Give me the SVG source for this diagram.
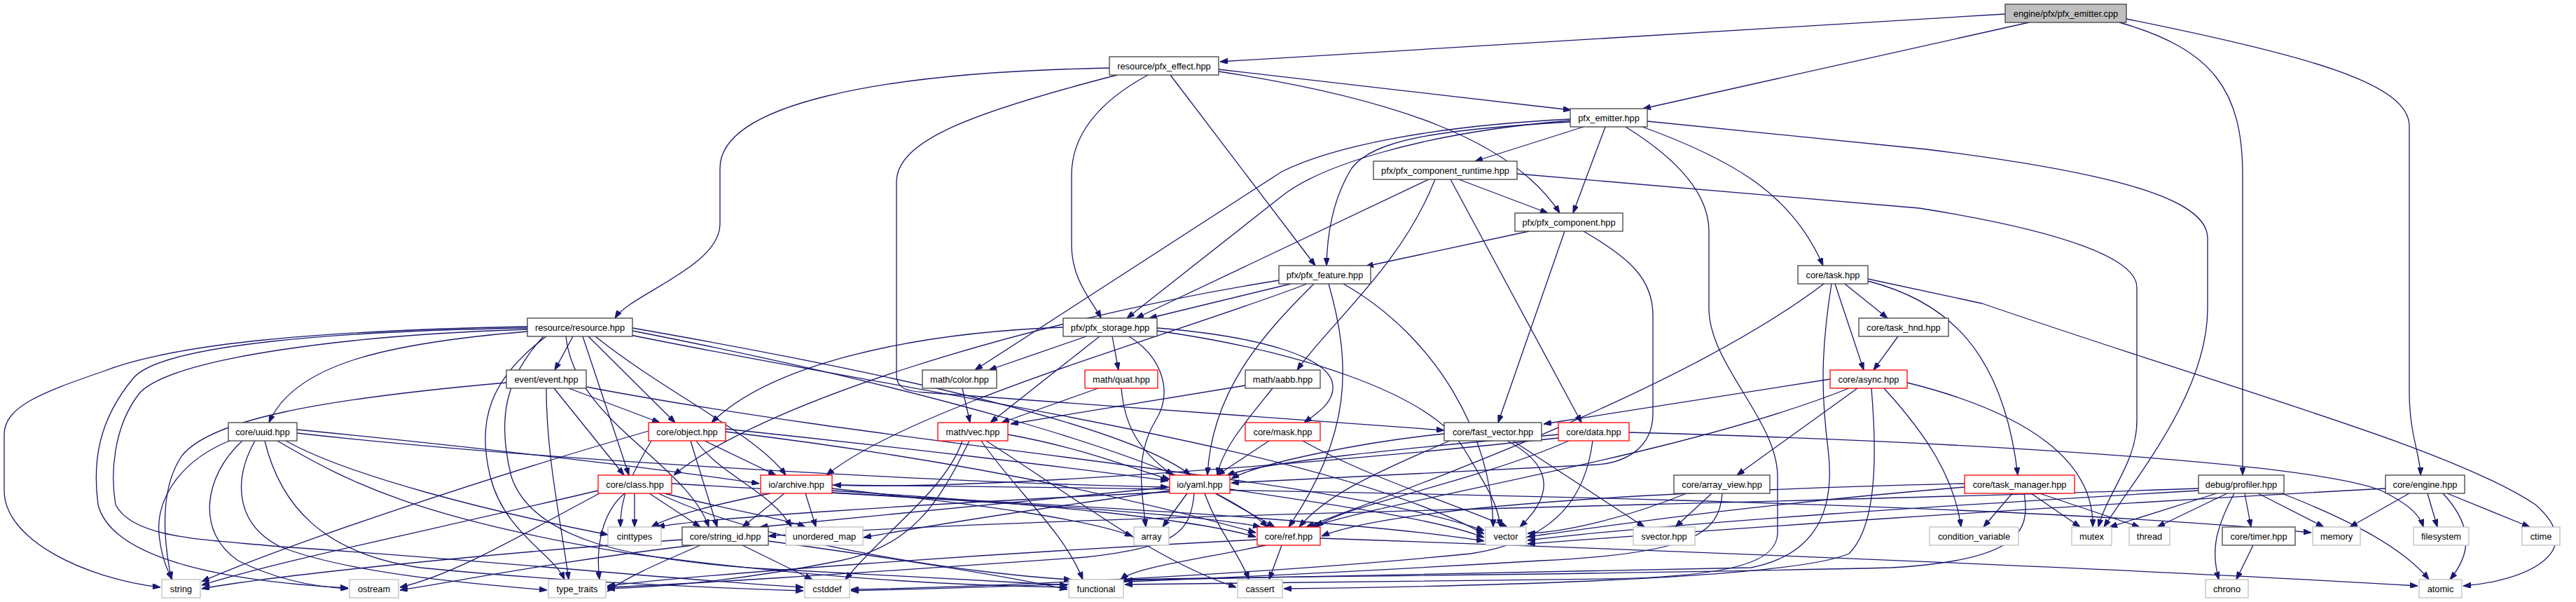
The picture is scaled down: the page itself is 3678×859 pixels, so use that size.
<svg xmlns="http://www.w3.org/2000/svg" width="3678" height="859" viewBox="0 0 3678 859">
<style>
.n rect{fill:#fff;stroke:#404040;stroke-width:1.3}
.n.r rect{stroke:#ff0000}
.n.g rect{stroke:#bfbfbf}
.n.c rect{fill:#bfbfbf}
.n text{font-family:"Liberation Sans",Arial,sans-serif;font-size:12.8px;text-anchor:middle;fill:#000}
#edges path{fill:none;stroke:#191970;stroke-width:1.3;marker-end:url(#a)}
</style>
<defs>
<marker id="a" viewBox="0 0 11 8" refX="11" refY="4" markerWidth="11" markerHeight="8" markerUnits="userSpaceOnUse" orient="auto"><path d="M0,0 L11,4 L0,8 z" fill="#191970" stroke="#191970" stroke-width="1"/></marker>
</defs>
<rect width="3678" height="859" fill="#fff"/>
<g id="edges">
<path d="M2863,20 L1742,88"/>
<path d="M2897,32 L2346,155"/>
<path d="M3026,32 C3160,70 3202,130 3202,250 L3202,678"/>
<path d="M3036,27 C3300,80 3440,120 3440,180 L3440,560 C3440,620 3456,650 3456,678"/>
<path d="M1584,97 C1250,103 1028,150 1028,240 L1028,320 C1028,380 900,420 878,454"/>
<path d="M1595,107 C1390,160 1280,200 1280,260 L1280,535 C1280,555 1295,558 1320,560 L2062,614"/>
<path d="M1639,107 C1560,150 1530,200 1530,250 L1530,350 C1530,400 1560,430 1572,454"/>
<path d="M1671,107 L1878,379"/>
<path d="M1740,99 L2243,157"/>
<path d="M1740,102 C1990,140 2160,200 2227,304"/>
<path d="M2242,170 C2040,180 1900,210 1830,245 L1392,528"/>
<path d="M2242,172 C2020,190 1880,240 1830,280 L1609,454"/>
<path d="M2242,174 C2050,185 1960,200 1930,240 C1905,280 1895,330 1894,379"/>
<path d="M2261,181 L2106,230"/>
<path d="M2292,181 L2246,304"/>
<path d="M2321,181 C2400,230 2440,280 2440,330 L2440,440 C2440,520 2538,600 2538,680 L2538,760 C2538,800 2480,822 2300,826 L1606,834"/>
<path d="M2345,181 C2480,230 2560,280 2603,379"/>
<path d="M2352,173 L2750,213 C3050,250 3152,290 3152,340 L3152,440 C3152,560 3050,680 3004,752"/>
<path d="M2040,256 L1622,454"/>
<path d="M2049,256 C2000,380 1900,460 1852,528"/>
<path d="M2071,256 L2258,603"/>
<path d="M2083,256 L2210,304"/>
<path d="M2166,248 L2740,297 C2950,330 3051,370 3051,410 L3051,600 C3051,660 3010,700 2996,752"/>
<path d="M2183,330 L1950,380"/>
<path d="M2234,330 L2139,603"/>
<path d="M2261,330 C2330,370 2360,400 2360,450 L2360,590 C2360,640 2320,660 2280,663 L1758,689"/>
<path d="M1843,405 L1641,454"/>
<path d="M1826,400 C1450,460 1080,580 962,678"/>
<path d="M1876,405 C1800,480 1730,560 1724,678"/>
<path d="M1897,405 C1930,520 1930,620 1840,752"/>
<path d="M1918,405 C2050,480 2130,620 2132,752"/>
<path d="M1866,405 C1700,470 1300,580 1180,678"/>
<path d="M2604,405 C2400,560 2000,700 1865,752"/>
<path d="M2615,405 C2600,500 2600,560 2610,640 C2620,720 2600,790 2500,810 L1606,828"/>
<path d="M2620,405 L2661,528"/>
<path d="M2634,405 L2695,454"/>
<path d="M2667,401 C2780,430 2860,500 2881,678"/>
<path d="M2667,398 L2830,433 C3200,560 3500,640 3620,720 C3700,790 3600,830 3517,836"/>
<path d="M2710,480 L2675,528"/>
<path d="M753,466 C450,472 250,490 147,530 C60,560 6,580 6,620 L6,700 C6,770 120,825 229,838"/>
<path d="M753,468 C500,472 230,490 190,540 C140,600 132,660 140,720 C160,800 330,830 497,839"/>
<path d="M753,470 C500,478 250,510 200,560 C160,610 158,680 165,720 C190,770 300,770 400,780 C700,800 1000,830 1147,838"/>
<path d="M753,473 C550,490 420,520 384,603"/>
<path d="M818,480 L792,528"/>
<path d="M840,480 L964,603"/>
<path d="M832,480 L898,678"/>
<path d="M850,480 C950,560 1080,620 1122,678"/>
<path d="M780,480 C700,540 680,600 700,680 C720,760 790,790 806,827"/>
<path d="M776,480 C720,540 710,600 730,680 C760,770 900,800 1100,812 L1524,835"/>
<path d="M808,480 C820,600 980,660 1012,752"/>
<path d="M903,468 C1200,520 1600,600 1700,678"/>
<path d="M903,472 C1250,540 1700,650 1810,752"/>
<path d="M900,478 C1300,560 1900,640 2119,762"/>
<path d="M1518,467 C1300,475 1100,520 1016,603"/>
<path d="M1551,480 L1412,528"/>
<path d="M1570,480 L1414,603"/>
<path d="M1588,480 L1597,528"/>
<path d="M1612,480 C1660,510 1675,560 1650,600 C1620,650 1630,700 1636,752"/>
<path d="M1652,468 C1800,480 1900,510 1903,550 C1905,575 1880,590 1862,603"/>
<path d="M1652,472 C1850,500 2040,560 2090,640 C2120,690 2140,720 2142,752"/>
<path d="M723,546 C450,570 300,600 260,650 C225,700 235,780 245,827"/>
<path d="M791,554 L891,678"/>
<path d="M812,554 L942,603"/>
<path d="M780,554 C780,650 800,740 812,827"/>
<path d="M837,552 C1300,640 1900,680 2119,757"/>
<path d="M1374,554 L1385,603"/>
<path d="M1568,554 L1430,603"/>
<path d="M1601,554 C1605,600 1620,640 1675,678"/>
<path d="M1778,550 L1443,605"/>
<path d="M1817,554 C1780,600 1745,640 1738,678"/>
<path d="M2613,541 L2204,605"/>
<path d="M2640,554 C2400,650 2000,710 1872,752"/>
<path d="M2652,554 L2480,678"/>
<path d="M2672,554 C2680,650 2680,750 2640,790 C2550,830 2000,838 1833,840"/>
<path d="M2690,554 C2750,620 2790,680 2800,752"/>
<path d="M2723,546 C2900,590 2990,660 2988,752"/>
<path d="M2408,704 C2320,740 2230,760 2181,761"/>
<path d="M2444,704 L2392,752"/>
<path d="M2459,704 C2455,760 2420,790 2200,800 C1700,830 1400,838 1215,843"/>
<path d="M2805,695 C2500,720 2300,750 2181,766"/>
<path d="M2805,690 C2400,700 2000,720 1887,765"/>
<path d="M2890,704 C2900,760 2880,800 2700,810 C2200,822 1800,822 1598,827"/>
<path d="M2873,704 L2832,752"/>
<path d="M2900,704 L2970,752"/>
<path d="M2912,704 L3055,752"/>
<path d="M3139,697 C2500,720 1500,735 1097,765"/>
<path d="M3139,700 C2800,720 2400,745 2181,771"/>
<path d="M3165,704 L3012,752"/>
<path d="M3180,704 L3080,752"/>
<path d="M3205,704 L3214,752"/>
<path d="M3224,704 L3318,752"/>
<path d="M3190,704 C3160,760 3158,790 3168,827"/>
<path d="M3258,704 C3350,740 3430,780 3468,827"/>
<path d="M3406,697 C2800,730 2400,760 2181,776"/>
<path d="M3440,704 L3355,752"/>
<path d="M3466,704 L3480,752"/>
<path d="M3488,704 C3540,760 3520,800 3498,827"/>
<path d="M3494,704 L3612,752"/>
<path d="M3217,778 L3193,827"/>
<path d="M1885,768 C2500,790 3100,815 3452,836"/>
<path d="M1795,770 C1400,790 1000,820 867,836"/>
<path d="M1808,778 C1700,800 1620,810 1600,827"/>
<path d="M1830,778 L1812,827"/>
<path d="M974,770 C700,790 400,820 288,840"/>
<path d="M990,778 C800,800 650,830 571,842"/>
<path d="M1000,778 C950,800 900,820 867,844"/>
<path d="M1060,778 L1160,827"/>
<path d="M1097,772 C1300,800 1450,825 1524,841"/>
<path d="M1670,695 C1400,720 1200,740 1085,752"/>
<path d="M1670,700 C1450,730 1300,755 1233,767"/>
<path d="M1670,702 C1300,720 1000,740 938,752"/>
<path d="M1695,704 L1660,752"/>
<path d="M1735,704 L1820,752"/>
<path d="M1720,704 C1740,760 1770,790 1783,827"/>
<path d="M1756,698 C1900,720 2050,740 2119,767"/>
<path d="M1705,704 C1700,760 1680,780 1550,795 C1200,820 950,835 867,838"/>
<path d="M1100,704 C1020,720 960,735 930,752"/>
<path d="M1120,704 L1060,752"/>
<path d="M1150,704 L1165,752"/>
<path d="M1188,697 C1400,720 1550,740 1617,765"/>
<path d="M1188,700 C1500,720 1700,740 1793,766"/>
<path d="M1188,703 C1600,725 1950,745 2119,772"/>
<path d="M1188,692 C2000,700 2900,720 3300,760"/>
<path d="M926,615 C700,680 400,780 288,830"/>
<path d="M930,629 C900,680 885,710 886,752"/>
<path d="M986,629 L1024,752"/>
<path d="M994,629 C1030,680 1100,700 1130,752"/>
<path d="M1006,629 L1108,678"/>
<path d="M1036,612 C1300,640 1550,670 1668,686"/>
<path d="M1036,616 C1400,660 1650,720 1793,760"/>
<path d="M854,700 C600,760 400,800 288,835"/>
<path d="M856,704 C750,760 650,820 571,838"/>
<path d="M892,704 C860,730 850,780 856,827"/>
<path d="M906,704 L906,752"/>
<path d="M927,704 L1000,752"/>
<path d="M949,704 C1050,730 1120,740 1150,752"/>
<path d="M959,690 C1300,710 1700,730 1800,752"/>
<path d="M940,704 C1100,780 1400,820 1530,827"/>
<path d="M330,628 C250,660 220,720 228,770 C232,800 240,815 246,827"/>
<path d="M346,629 C290,680 280,760 340,800 C400,830 460,838 497,840"/>
<path d="M364,629 C330,690 340,750 400,780 C500,820 700,835 781,842"/>
<path d="M378,629 C400,720 460,790 600,810 C800,830 1000,838 1147,843"/>
<path d="M396,629 C500,690 600,740 900,790 C1200,830 1400,836 1524,838"/>
<path d="M408,629 C500,680 700,730 868,763"/>
<path d="M424,613 C700,640 950,670 1084,690"/>
<path d="M424,618 C800,660 1400,690 1668,695"/>
<path d="M1812,629 L1738,678"/>
<path d="M1860,629 C1950,680 2080,720 2152,752"/>
<path d="M2062,619 C1950,630 1800,660 1758,683"/>
<path d="M2070,629 C1950,680 1890,710 1855,752"/>
<path d="M2152,629 C2210,660 2225,700 2170,752"/>
<path d="M2160,629 L2348,752"/>
<path d="M2225,620 C2000,640 1800,660 1752,678"/>
<path d="M2225,625 C1900,660 1400,700 1190,692"/>
<path d="M2240,629 C2100,690 1920,720 1879,752"/>
<path d="M2274,629 C2265,700 2230,770 2100,790 C1800,820 1400,838 1215,841"/>
<path d="M2326,617 C2800,630 3300,660 3400,700 C3440,720 3455,735 3460,752"/>
<path d="M1374,629 C1350,700 1260,760 1207,827"/>
<path d="M1384,629 C1340,720 1300,780 1200,800 C1050,830 930,838 867,840"/>
<path d="M1401,629 C1450,700 1520,760 1546,827"/>
<path d="M1408,629 C1550,720 1650,800 1765,838"/>
<path d="M1439,620 C1550,640 1620,670 1670,684"/>
</g>
<g id="n-cpp" class="n c"><rect x="2863" y="6" width="173" height="26"/><text x="2949.5" y="23.5">engine/pfx/pfx_emitter.cpp</text></g>
<g id="n-pfx-effect" class="n"><rect x="1584" y="81" width="156" height="26"/><text x="1662" y="98.5">resource/pfx_effect.hpp</text></g>
<g id="n-pfx-emitter" class="n"><rect x="2242" y="155" width="110" height="26"/><text x="2297" y="172.5">pfx_emitter.hpp</text></g>
<g id="n-runtime" class="n"><rect x="1961" y="230" width="205" height="26"/><text x="2063.5" y="247.5">pfx/pfx_component_runtime.hpp</text></g>
<g id="n-component" class="n"><rect x="2163" y="304" width="154" height="26"/><text x="2240" y="321.5">pfx/pfx_component.hpp</text></g>
<g id="n-feature" class="n"><rect x="1826" y="379" width="131" height="26"/><text x="1891.5" y="396.5">pfx/pfx_feature.hpp</text></g>
<g id="n-task" class="n"><rect x="2567" y="379" width="100" height="26"/><text x="2617" y="396.5">core/task.hpp</text></g>
<g id="n-resource" class="n"><rect x="753" y="454" width="150" height="26"/><text x="828" y="471.5">resource/resource.hpp</text></g>
<g id="n-storage" class="n"><rect x="1518" y="454" width="134" height="26"/><text x="1585" y="471.5">pfx/pfx_storage.hpp</text></g>
<g id="n-task-hnd" class="n"><rect x="2654" y="454" width="128" height="26"/><text x="2718" y="471.5">core/task_hnd.hpp</text></g>
<g id="n-event" class="n"><rect x="723" y="528" width="114" height="26"/><text x="780" y="545.5">event/event.hpp</text></g>
<g id="n-color" class="n"><rect x="1317" y="528" width="106" height="26"/><text x="1370" y="545.5">math/color.hpp</text></g>
<g id="n-quat" class="n r"><rect x="1549" y="528" width="104" height="26"/><text x="1601" y="545.5">math/quat.hpp</text></g>
<g id="n-aabb" class="n"><rect x="1778" y="528" width="107" height="26"/><text x="1831.5" y="545.5">math/aabb.hpp</text></g>
<g id="n-async" class="n r"><rect x="2613" y="528" width="110" height="26"/><text x="2668" y="545.5">core/async.hpp</text></g>
<g id="n-uuid" class="n"><rect x="326" y="603" width="98" height="26"/><text x="375" y="620.5">core/uuid.hpp</text></g>
<g id="n-object" class="n r"><rect x="926" y="603" width="110" height="26"/><text x="981" y="620.5">core/object.hpp</text></g>
<g id="n-vec" class="n r"><rect x="1339" y="603" width="100" height="26"/><text x="1389" y="620.5">math/vec.hpp</text></g>
<g id="n-mask" class="n r"><rect x="1778" y="603" width="107" height="26"/><text x="1831.5" y="620.5">core/mask.hpp</text></g>
<g id="n-fast-vector" class="n"><rect x="2062" y="603" width="139" height="26"/><text x="2131.5" y="620.5">core/fast_vector.hpp</text></g>
<g id="n-data" class="n r"><rect x="2225" y="603" width="101" height="26"/><text x="2275.5" y="620.5">core/data.hpp</text></g>
<g id="n-class" class="n r"><rect x="854" y="678" width="105" height="26"/><text x="906.5" y="695.5">core/class.hpp</text></g>
<g id="n-archive" class="n r"><rect x="1086" y="678" width="102" height="26"/><text x="1137" y="695.5">io/archive.hpp</text></g>
<g id="n-yaml" class="n r"><rect x="1670" y="678" width="86" height="26"/><text x="1713" y="695.5">io/yaml.hpp</text></g>
<g id="n-array-view" class="n"><rect x="2390" y="678" width="137" height="26"/><text x="2458.5" y="695.5">core/array_view.hpp</text></g>
<g id="n-task-manager" class="n r"><rect x="2805" y="678" width="157" height="26"/><text x="2883.5" y="695.5">core/task_manager.hpp</text></g>
<g id="n-profiler" class="n"><rect x="3139" y="678" width="122" height="26"/><text x="3200" y="695.5">debug/profiler.hpp</text></g>
<g id="n-engine" class="n"><rect x="3406" y="678" width="113" height="26"/><text x="3462.5" y="695.5">core/engine.hpp</text></g>
<g id="n-cinttypes" class="n g"><rect x="868" y="752" width="76" height="26"/><text x="906" y="769.5">cinttypes</text></g>
<g id="n-string-id" class="n"><rect x="974" y="752" width="123" height="26"/><text x="1035.5" y="769.5">core/string_id.hpp</text></g>
<g id="n-unordered-map" class="n g"><rect x="1122" y="752" width="110" height="26"/><text x="1177" y="769.5">unordered_map</text></g>
<g id="n-array" class="n g"><rect x="1619" y="752" width="50" height="26"/><text x="1644" y="769.5">array</text></g>
<g id="n-ref" class="n r"><rect x="1795" y="752" width="90" height="26"/><text x="1840" y="769.5">core/ref.hpp</text></g>
<g id="n-vector" class="n g"><rect x="2121" y="752" width="58" height="26"/><text x="2150" y="769.5">vector</text></g>
<g id="n-svector" class="n g"><rect x="2332" y="752" width="88" height="26"/><text x="2376" y="769.5">svector.hpp</text></g>
<g id="n-condvar" class="n g"><rect x="2755" y="752" width="127" height="26"/><text x="2818.5" y="769.5">condition_variable</text></g>
<g id="n-mutex" class="n g"><rect x="2958" y="752" width="57" height="26"/><text x="2986.5" y="769.5">mutex</text></g>
<g id="n-thread" class="n g"><rect x="3040" y="752" width="58" height="26"/><text x="3069" y="769.5">thread</text></g>
<g id="n-timer" class="n"><rect x="3173" y="752" width="104" height="26"/><text x="3225" y="769.5">core/timer.hpp</text></g>
<g id="n-memory" class="n g"><rect x="3302" y="752" width="68" height="26"/><text x="3336" y="769.5">memory</text></g>
<g id="n-filesystem" class="n g"><rect x="3446" y="752" width="79" height="26"/><text x="3485.5" y="769.5">filesystem</text></g>
<g id="n-ctime" class="n g"><rect x="3601" y="752" width="54" height="26"/><text x="3628" y="769.5">ctime</text></g>
<g id="n-string" class="n g"><rect x="231" y="827" width="55" height="26"/><text x="258.5" y="844.5">string</text></g>
<g id="n-ostream" class="n g"><rect x="499" y="827" width="70" height="26"/><text x="534" y="844.5">ostream</text></g>
<g id="n-type-traits" class="n g"><rect x="783" y="827" width="82" height="26"/><text x="824" y="844.5">type_traits</text></g>
<g id="n-cstddef" class="n g"><rect x="1149" y="827" width="64" height="26"/><text x="1181" y="844.5">cstddef</text></g>
<g id="n-functional" class="n g"><rect x="1526" y="827" width="78" height="26"/><text x="1565" y="844.5">functional</text></g>
<g id="n-cassert" class="n g"><rect x="1767" y="827" width="64" height="26"/><text x="1799" y="844.5">cassert</text></g>
<g id="n-chrono" class="n g"><rect x="3149" y="827" width="61" height="26"/><text x="3179.5" y="844.5">chrono</text></g>
<g id="n-atomic" class="n g"><rect x="3454" y="827" width="61" height="26"/><text x="3484.5" y="844.5">atomic</text></g>
</svg>
